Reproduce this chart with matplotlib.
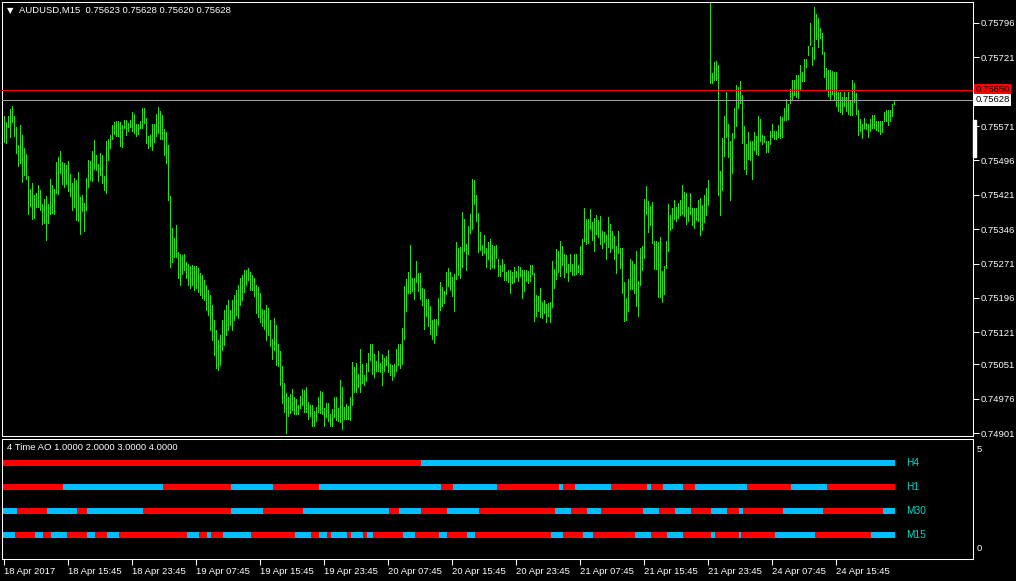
import numpy as np
import matplotlib.pyplot as plt
from matplotlib.patches import Rectangle

# AUDUSD M15 bars, high / low in points (1e-5)
HIGH_PTS = [
    75593, 75580, 75593, 75608, 75615, 75593, 75569, 75530, 75573, 75551,
    75524, 75510, 75462, 75433, 75446, 75420, 75424, 75442, 75431, 75401,
    75411, 75418, 75401, 75455, 75442, 75433, 75493, 75504, 75517, 75493,
    75490, 75486, 75495, 75466, 75446, 75458, 75453, 75471, 75416, 75420,
    75403, 75458, 75497, 75495, 75517, 75541, 75508, 75488, 75512, 75508,
    75462, 75539, 75542, 75551, 75573, 75580, 75582, 75582, 75580, 75573,
    75584, 75584, 75577, 75584, 75602, 75597, 75575, 75575, 75582, 75611,
    75611, 75589, 75549, 75551, 75575, 75575, 75597, 75613, 75604, 75595,
    75564, 75558, 75530, 75418, 75349, 75327, 75355, 75296, 75291, 75289,
    75291, 75275, 75270, 75266, 75268, 75266, 75266, 75262, 75250, 75246,
    75235, 75224, 75213, 75202, 75180, 75148, 75126, 75104, 75115, 75148,
    75169, 75180, 75191, 75169, 75191, 75202, 75213, 75224, 75240, 75246,
    75257, 75257, 75262, 75253, 75246, 75240, 75224, 75220, 75206, 75171,
    75169, 75180, 75174, 75148, 75106, 75152, 75137, 75095, 75080, 75047,
    75010, 74988, 74980, 74986, 74997, 74980, 74975, 74962, 74982, 74997,
    74995, 75002, 74969, 74962, 74962, 74949, 74958, 74980, 74993, 74991,
    74956, 74966, 74966, 74942, 74953, 74980, 74980, 74956, 75017, 75002,
    74958, 74964, 74960, 74980, 75056, 75045, 75053, 75029, 75084, 75051,
    75027, 75053, 75075, 75095, 75095, 75073, 75058, 75080, 75053, 75073,
    75065, 75069, 75082, 75051, 75049, 75051, 75084, 75095, 75095, 75131,
    75222, 75237, 75253, 75311, 75240, 75240, 75277, 75250, 75250, 75218,
    75215, 75193, 75193, 75178, 75148, 75149, 75149, 75196, 75231, 75220,
    75211, 75253, 75262, 75253, 75242, 75248, 75318, 75305, 75307, 75384,
    75368, 75313, 75353, 75379, 75455, 75453, 75420, 75381, 75340, 75311,
    75333, 75305, 75318, 75324, 75311, 75309, 75311, 75280, 75268, 75280,
    75270, 75253, 75257, 75257, 75253, 75264, 75255, 75266, 75264, 75257,
    75257, 75257, 75255, 75268, 75268, 75250, 75202, 75200, 75218, 75187,
    75191, 75182, 75184, 75187, 75277, 75259, 75302, 75298, 75320, 75309,
    75291, 75289, 75270, 75291, 75270, 75291, 75291, 75268, 75309, 75324,
    75393, 75368, 75368, 75390, 75362, 75371, 75377, 75366, 75375, 75342,
    75340, 75333, 75373, 75357, 75342, 75331, 75309, 75342, 75305, 75305,
    75231, 75196, 75237, 75280, 75277, 75270, 75298, 75233, 75305, 75309,
    75411, 75440, 75408, 75397, 75406, 75320, 75320, 75318, 75329, 75255,
    75266, 75320, 75401, 75377, 75393, 75410, 75395, 75403, 75410, 75442,
    75427, 75424, 75395, 75424, 75393, 75393, 75393, 75410, 75414, 75399,
    75420, 75436, 75453, 75839, 75686, 75711, 75713, 75704, 75473, 75545,
    75593, 75646, 75575, 75539, 75555, 75611, 75661, 75657, 75670, 75639,
    75571, 75532, 75558, 75539, 75539, 75558, 75549, 75593, 75586, 75551,
    75549, 75539, 75539, 75560, 75575, 75560, 75560, 75573, 75593, 75591,
    75611, 75630, 75619, 75652, 75672, 75672, 75682, 75682, 75704, 75689,
    75717, 75717, 75746, 75796, 75744, 75831, 75815, 75807, 75786, 75774,
    75733, 75698, 75693, 75693, 75691, 75689, 75689, 75646, 75646, 75635,
    75646, 75635, 75646, 75628, 75672, 75665, 75643, 75606, 75586, 75575,
    75589, 75577, 75575, 75586, 75595, 75595, 75582, 75582, 75582, 75582,
    75602, 75606, 75606, 75606, 75619, 75628,
]
LOW_PTS = [
    75537, 75534, 75569, 75547, 75580, 75549, 75512, 75484, 75490, 75449,
    75464, 75455, 75379, 75397, 75368, 75371, 75395, 75395, 75388, 75357,
    75359, 75322, 75359, 75379, 75381, 75379, 75424, 75422, 75468, 75444,
    75438, 75444, 75429, 75418, 75388, 75395, 75366, 75364, 75335, 75386,
    75342, 75388, 75438, 75453, 75451, 75477, 75475, 75451, 75464, 75446,
    75431, 75424, 75497, 75524, 75542, 75553, 75549, 75549, 75528, 75526,
    75567, 75551, 75560, 75569, 75560, 75555, 75549, 75553, 75567, 75567,
    75577, 75534, 75524, 75528, 75519, 75537, 75549, 75555, 75542, 75542,
    75508, 75490, 75410, 75264, 75275, 75285, 75285, 75240, 75224, 75248,
    75257, 75240, 75224, 75218, 75224, 75213, 75218, 75209, 75202, 75196,
    75191, 75169, 75158, 75126, 75104, 75071, 75043, 75038, 75049, 75082,
    75093, 75115, 75126, 75137, 75126, 75148, 75158, 75152, 75180, 75191,
    75209, 75224, 75235, 75213, 75213, 75200, 75162, 75154, 75144, 75135,
    75128, 75104, 75115, 75091, 75062, 75082, 75049, 75047, 75006, 74966,
    74947, 74900, 74938, 74944, 74951, 74942, 74942, 74942, 74956, 74962,
    74947, 74947, 74931, 74938, 74916, 74916, 74927, 74947, 74944, 74942,
    74916, 74936, 74927, 74916, 74916, 74936, 74929, 74927, 74925, 74909,
    74931, 74931, 74931, 74929, 74962, 74991, 74991, 75002, 74991, 75010,
    75006, 75015, 75036, 75060, 75029, 75023, 75036, 75036, 75034, 75006,
    75036, 75049, 75034, 75027, 75017, 75025, 75036, 75049, 75043, 75051,
    75106, 75167, 75206, 75206, 75211, 75193, 75231, 75211, 75193, 75180,
    75128, 75156, 75135, 75117, 75106, 75097, 75115, 75137, 75169, 75178,
    75184, 75204, 75222, 75213, 75200, 75167, 75237, 75246, 75240, 75264,
    75298, 75257, 75291, 75337, 75346, 75401, 75364, 75296, 75300, 75289,
    75293, 75264, 75280, 75259, 75264, 75262, 75283, 75244, 75244, 75255,
    75235, 75235, 75231, 75206, 75228, 75231, 75242, 75233, 75244, 75196,
    75211, 75233, 75228, 75233, 75248, 75146, 75156, 75167, 75154, 75152,
    75162, 75144, 75156, 75144, 75176, 75218, 75237, 75253, 75244, 75268,
    75242, 75253, 75233, 75255, 75246, 75246, 75248, 75253, 75248, 75248,
    75320, 75313, 75315, 75346, 75322, 75298, 75335, 75329, 75313, 75305,
    75318, 75280, 75307, 75296, 75305, 75280, 75250, 75293, 75262, 75206,
    75146, 75148, 75167, 75215, 75215, 75206, 75178, 75156, 75224, 75257,
    75283, 75379, 75340, 75355, 75315, 75259, 75259, 75198, 75198, 75187,
    75204, 75262, 75298, 75344, 75349, 75368, 75364, 75371, 75377, 75379,
    75375, 75357, 75364, 75379, 75355, 75349, 75366, 75364, 75333, 75344,
    75362, 75377, 75399, 75665, 75665, 75672, 75672, 75420, 75377, 75431,
    75506, 75547, 75504, 75410, 75468, 75545, 75571, 75611, 75621, 75534,
    75477, 75466, 75499, 75497, 75455, 75519, 75510, 75508, 75539, 75532,
    75537, 75515, 75515, 75532, 75547, 75542, 75542, 75547, 75545, 75547,
    75584, 75584, 75586, 75621, 75630, 75639, 75635, 75633, 75650, 75670,
    75670, 75700, 75726, 75748, 75704, 75717, 75761, 75744, 75764, 75728,
    75678, 75650, 75637, 75630, 75641, 75630, 75615, 75604, 75602, 75597,
    75615, 75604, 75597, 75595, 75595, 75624, 75597, 75551, 75560, 75545,
    75567, 75564, 75547, 75560, 75567, 75567, 75562, 75560, 75553, 75558,
    75582, 75582, 75573, 75582, 75593, 75620,
]

ASK = 0.75650
BID = 0.75628
PRICE_TICKS = [0.75796, 0.75721, 0.75571, 0.75496, 0.75421, 0.75346, 0.75271,
               0.75196, 0.75121, 0.75051, 0.74976, 0.74901]

TIME_LABELS = ['18 Apr 2017', '18 Apr 15:45', '18 Apr 23:45', '19 Apr 07:45',
               '19 Apr 15:45', '19 Apr 23:45', '20 Apr 07:45', '20 Apr 15:45',
               '20 Apr 23:45', '21 Apr 07:45', '21 Apr 15:45', '21 Apr 23:45',
               '24 Apr 07:45', '24 Apr 15:45']
LABEL_EVERY = 32  # bars between time labels

# indicator: run lengths (in bars) of alternating states, first state given
ROWS = ['H4', 'H1', 'M30', 'M15']
ROW_LEVEL = [4, 3, 2, 1]
ROW_FIRST = ['red', 'red', 'blue', 'blue']
ROW_RUNS = [
    [209, 237],
    [30, 50, 34, 21, 23, 61, 6, 22, 31, 2, 6, 18, 18, 2, 6, 10, 6, 26, 22, 18, 34],
    [7, 15, 15, 5, 28, 44, 16, 20, 43, 5, 11, 13, 16, 38, 8, 8, 7, 21, 8, 8, 8,
     10, 8, 6, 2, 20, 20, 30, 6],
    [6, 10, 4, 4, 8, 10, 4, 6, 6, 34, 6, 4, 2, 6, 14, 22, 8, 4, 4, 2, 8, 2, 6, 2,
     3, 15, 6, 12, 4, 10, 4, 38, 6, 10, 5, 21, 8, 8, 8, 14, 2, 12, 1, 17, 20, 28, 12],
]
STATE_COLORS = {'red': '#FF0000', 'blue': '#00BFFF'}

plt.rcParams['font.family'] = ['Liberation Sans', 'DejaVu Sans']

W, H = 1016, 581
FS = 6.8
WHITE = '#FFFFFF'
BAR_COLOR = '#30D820'


def frac(x0, y0, x1, y1):
    return [x0 / W, 1 - y1 / H, (x1 - x0) / W, (y1 - y0) / H]


high = np.array(HIGH_PTS) / 1e5
low = np.array(LOW_PTS) / 1e5
idx = np.arange(len(high))
x_left, x_right = -0.75, 484.75

fig = plt.figure(figsize=(W / 100, H / 100), dpi=100, facecolor='black')

# ---- price panel
ax = fig.add_axes(frac(2, 2, 973, 436), facecolor='black')
ax.vlines(idx, low, high, colors=BAR_COLOR, linewidth=0.5, antialiased=False, zorder=2)
ax.axhline(ASK, color='#FF0000', lw=0.75, zorder=3)
ax.axhline(BID, color='#A0A0A0', lw=0.75, zorder=3)
ax.set_xlim(x_left, x_right)
ax.set_ylim(0.748945, 0.758418)
ax.yaxis.tick_right()
ax.set_yticks(PRICE_TICKS)
ax.set_yticklabels(['%.5f' % v for v in PRICE_TICKS])
ax.set_xticks([])
ax.tick_params(axis='y', colors=WHITE, length=4, width=0.75, pad=1.5, labelsize=FS)
for s in ax.spines.values():
    s.set_color(WHITE)
    s.set_linewidth(0.75)

ax.text(1.0025, ASK, '%.5f' % ASK, transform=ax.get_yaxis_transform(), fontsize=FS,
        color='black', ha='left', va='center',
        bbox=dict(boxstyle='square,pad=0.12', fc='#FF0000', ec='none'))
ax.text(1.0025, BID, '%.5f' % BID, transform=ax.get_yaxis_transform(), fontsize=FS,
        color='black', ha='left', va='center',
        bbox=dict(boxstyle='square,pad=0.12', fc='white', ec='none'))

fig.text(7 / W, 1 - 10.5 / H, '\u25bc', fontsize=6, color=WHITE, va='center',
         family='DejaVu Sans')
fig.text(19 / W, 1 - 10.5 / H, 'AUDUSD,M15  %.5f %.5f %.5f %.5f' % (0.75623, 0.75628, 0.75620, 0.75628),
         fontsize=FS, color=WHITE, va='center')

# scroll marker on price scale
fig.add_artist(Rectangle((973 / W, 1 - 157 / H), 3 / W, 37 / H, color=WHITE))

# ---- indicator panel
ax2 = fig.add_axes(frac(2, 439, 973, 559), facecolor='black')
for name, lvl, first, runs in zip(ROWS, ROW_LEVEL, ROW_FIRST, ROW_RUNS):
    state = first
    start = 0
    for n in runs:
        ax2.broken_barh([(start - 0.5, n)], (lvl - 0.13, 0.26),
                        facecolors=STATE_COLORS[state], edgecolor='none')
        start += n
        state = 'blue' if state == 'red' else 'red'
    ax2.text(451.5, lvl, name, color='#00D8C0', fontsize=7.3, va='center', ha='left')

ax2.set_xlim(x_left, x_right)
ax2.set_ylim(0, 5)
ax2.set_yticks([])
tick_pos = np.arange(len(TIME_LABELS)) * LABEL_EVERY
ax2.set_xticks(tick_pos)
ax2.set_xticklabels(TIME_LABELS)
for lbl in ax2.get_xticklabels():
    lbl.set_ha('left')
ax2.tick_params(axis='x', colors=WHITE, length=4, width=0.75, pad=2, labelsize=FS)
for s in ax2.spines.values():
    s.set_color(WHITE)
    s.set_linewidth(0.75)

ax2.text(1.004, 0.95, '5', transform=ax2.transAxes, color=WHITE, fontsize=FS, va='top')
ax2.text(1.004, 0.05, '0', transform=ax2.transAxes, color=WHITE, fontsize=FS, va='bottom')
fig.text(7 / W, 1 - 448 / H, '4 Time AO 1.0000 2.0000 3.0000 4.0000',
         fontsize=FS, color=WHITE, va='center')

fig.savefig('out.png', dpi=100, facecolor='black')
